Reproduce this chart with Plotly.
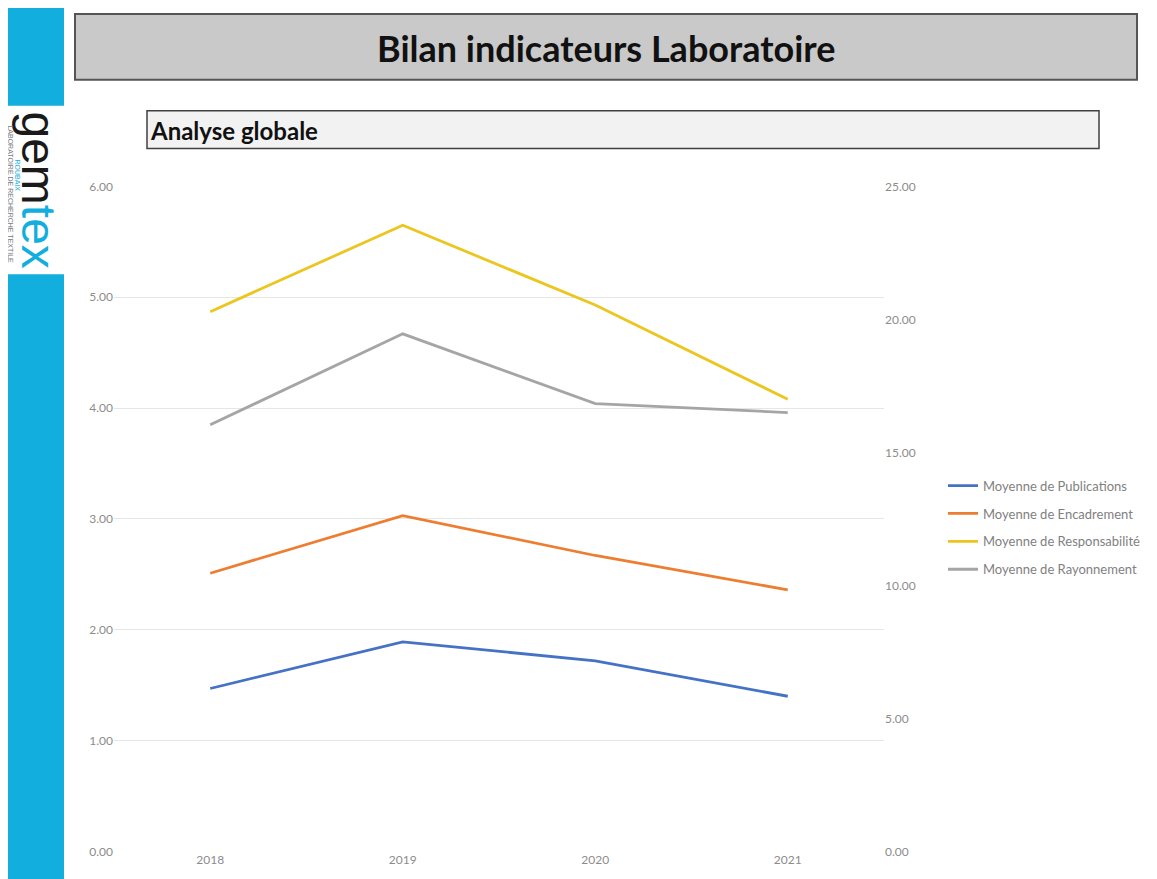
import plotly.graph_objects as go

W, H = 1157, 879

years = ["2018", "2019", "2020", "2021"]
publications = [1.47, 1.89, 1.72, 1.40]
encadrement = [2.51, 3.03, 2.67, 2.36]
responsabilite = [4.87, 5.65, 4.93, 4.08]
rayonnement = [3.85, 4.67, 4.04, 3.96]

series_names = ["Moyenne de Publications", "Moyenne de Encadrement",
                "Moyenne de Responsabilité", "Moyenne de Rayonnement"]
series_values = [publications, encadrement, responsabilite, rayonnement]
series_colors = ["#4472C4", "#ED7D31", "#EBC61E", "#A5A5A5"]

left_ticks = [0, 1, 2, 3, 4, 5, 6]
right_ticks = [0, 5, 10, 15, 20, 25]

# page-pixel -> paper fraction (compensates page offset observed in render)
OX, OY, SY = 8, 13, 0.986


def px(x):
    return (x - OX) / W


def py(y):
    return 1 - ((y - OY) / SY) / H


fig = go.Figure()
for i, (name, vals, col) in enumerate(zip(series_names, series_values, series_colors)):
    fig.add_trace(go.Scatter(
        x=years, y=vals, mode="lines", name=name,
        line=dict(color=col, width=2.8), legendgroup=f"g{i}",
    ))

fig.add_trace(go.Scatter(x=years, y=[None] * 4, yaxis="y2", showlegend=False,
                         hoverinfo="skip", mode="lines"))

tickfont = dict(family="Lato, Liberation Sans, sans-serif", size=12, color="#8C8C8C")
CYAN = "#12AEDD"

shapes = [
    dict(type="rect", xref="paper", yref="paper", x0=px(8), x1=px(64), y0=py(-30), y1=py(103),
         fillcolor=CYAN, line=dict(width=0), layer="below"),
    dict(type="rect", xref="paper", yref="paper", x0=px(8), x1=px(64), y0=py(272), y1=py(900),
         fillcolor=CYAN, line=dict(width=0), layer="below"),
    dict(type="rect", xref="paper", yref="paper", x0=px(75), x1=px(1137), y0=py(11), y1=py(77),
         fillcolor="#C9C9C9", line=dict(color="#555555", width=2), layer="below"),
    dict(type="rect", xref="paper", yref="paper", x0=px(147), x1=px(1099), y0=py(108), y1=py(146),
         fillcolor="#F2F2F2", line=dict(color="#404040", width=1.5), layer="below"),
]

annotations = [
    dict(text="<b>Bilan indicateurs Laboratoire</b>", x=px(606), y=py(45), xref="paper", yref="paper",
         showarrow=False, xanchor="center", yanchor="middle",
         font=dict(family="Lato, Liberation Sans, sans-serif", size=36, color="#111111")),
    dict(text="<b>Analyse globale</b>", x=px(148), y=py(128), xref="paper", yref="paper",
         showarrow=False, xanchor="left", yanchor="middle",
         font=dict(family="Lato, Liberation Sans, sans-serif", size=24, color="#111111")),
    dict(text="<span style='color:#1a1a1a'>gem</span><span style='color:#12AEDD'>tex</span>",
         x=px(39), y=py(187), xref="paper", yref="paper", showarrow=False, textangle=90,
         xanchor="center", yanchor="middle",
         font=dict(family="Liberation Sans Narrow, Liberation Sans, sans-serif", size=48)),
    dict(text="ROUBAIX", x=px(17), y=py(173), xref="paper", yref="paper", showarrow=False,
         textangle=90, xanchor="center", yanchor="middle",
         font=dict(family="Liberation Sans, sans-serif", size=7, color=CYAN)),
    dict(text="LABORATOIRE DE RECHERCHE TEXTILE", x=px(11), y=py(192), xref="paper", yref="paper",
         showarrow=False, textangle=90, xanchor="center", yanchor="middle",
         font=dict(family="Liberation Sans Narrow, Liberation Sans, sans-serif", size=7,
                   color="#777777")),
]

fig.update_layout(
    width=W, height=H,
    margin=dict(l=0, r=0, t=0, b=0),
    paper_bgcolor="white", plot_bgcolor="white",
    shapes=shapes, annotations=annotations,
    showlegend=True,
    legend=dict(x=px(943), y=py(469), xanchor="left", yanchor="top",
                font=dict(family="Lato, Liberation Sans, sans-serif", size=13, color="#7F7F7F"),
                tracegroupgap=8, bgcolor="rgba(0,0,0,0)"),
    xaxis=dict(domain=[px(114), px(884)], type="category", range=[-0.5, 3.5],
               showgrid=False, showline=False, zeroline=False, ticks="",
               tickfont=tickfont),
    yaxis=dict(domain=[py(851), py(184)], range=[0, 6], tickvals=left_ticks,
               tickformat=".2f", showgrid=True, gridcolor="#E6E6E6", gridwidth=1,
               zeroline=False, showline=False, ticks="", tickfont=tickfont),
    yaxis2=dict(overlaying="y", side="right", range=[0, 25], tickvals=right_ticks,
                tickformat=".2f", showgrid=False, zeroline=False, showline=False,
                ticks="", tickfont=tickfont),
)

fig.write_html("out.html")
